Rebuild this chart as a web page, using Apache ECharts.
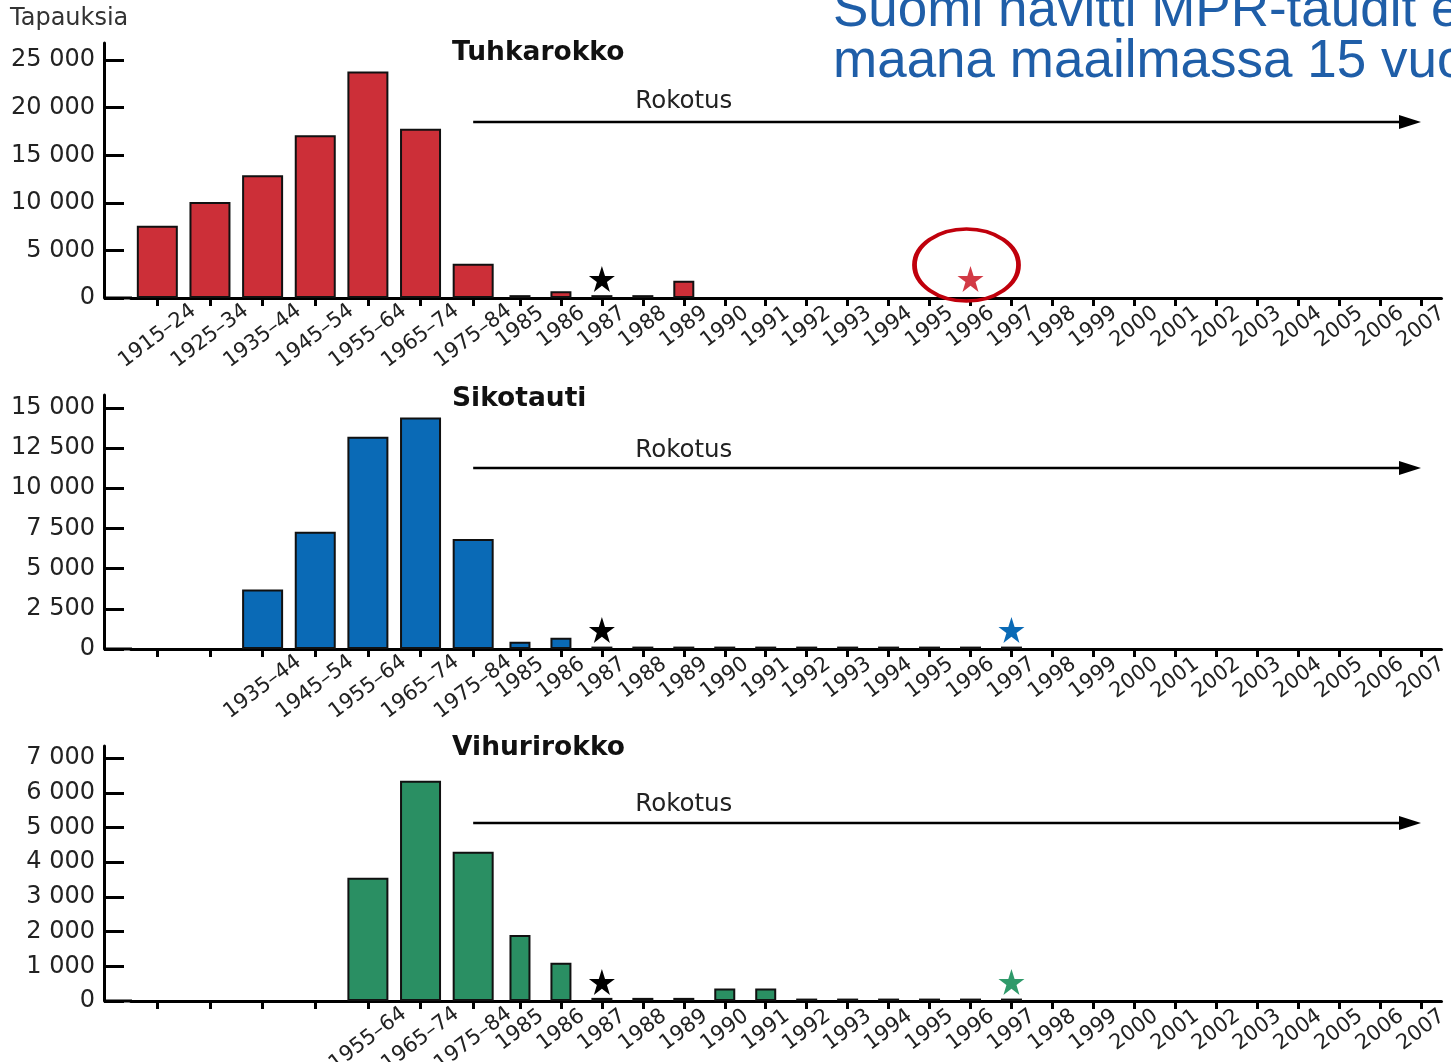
<!DOCTYPE html>
<html>
<head>
<meta charset="utf-8">
<script src="https://cdn.jsdelivr.net/npm/echarts@6/dist/echarts.min.js"></script>
<style>
  html, body { margin: 0; padding: 0; background: #fff; }
  #main { width: 1451px; height: 1062px; }
</style>
</head>
<body>
<div id="main"></div>
<script>
// ---------- DATA ----------
const decades = ['1915–24', '1925–34', '1935–44', '1945–54', '1955–64', '1965–74', '1975–84'];
const years = ['1985', '1986', '1987', '1988', '1989', '1990', '1991', '1992', '1993', '1994', '1995', '1996',
               '1997', '1998', '1999', '2000', '2001', '2002', '2003', '2004', '2005', '2006', '2007'];

const panelTitles = ['Tuhkarokko', 'Sikotauti', 'Vihurirokko'];
const arrowLabel = 'Rokotus';
const yAxisTitle = 'Tapauksia';
const headline = ['Suomi hävitti MPR-taudit e', 'maana maailmassa 15 vuo'];

// Tuhkarokko (measles)
const measlesDecades = [7600, 10100, 12900, 17100, 23800, 17800, 3600];
const measlesYears = [300, 700, 300, 300, 1800, null, null, null, null, null, null, null,
                      null, null, null, null, null, null, null, null, null, null, null];
// Sikotauti (mumps)
const mumpsDecades = [null, null, 3700, 7300, 13200, 14400, 6850];
const mumpsYears = [450, 700, 150, 150, 150, 150, 150, 150, 150, 150, 150, 150,
                    150, null, null, null, null, null, null, null, null, null, null];
// Vihurirokko (rubella)
const rubellaDecades = [null, null, null, null, 3550, 6350, 4300];
const rubellaYears = [1900, 1100, 90, 90, 90, 360, 360, 70, 70, 70, 70, 70,
                      70, null, null, null, null, null, null, null, null, null, null];

const blackStarYear = '1987';
const eliminationYears = ['1996', '1997', '1997'];

const yTickValues = [
  [0, 5000, 10000, 15000, 20000, 25000],
  [0, 2500, 5000, 7500, 10000, 12500, 15000],
  [0, 1000, 2000, 3000, 4000, 5000, 6000, 7000]
];
const yMax = [26800, 15800, 7350];

// ---------- STYLE / LAYOUT ----------
const barColors = ['#cc2f38', '#0a6ab6', '#2a8f63'];
const starColors = ['#d23a45', '#0a6ab6', '#2f9a6a'];
const gridTops = [43, 395, 746];
const gridHeights = [255, 254, 255];
const titleY = [53, 399, 748];
const rokY = [102, 451, 805];
const arrowY = [122, 468, 823];
const axisX = 104;
const decLeft = 131, decRight = 499.5, yrRight = 1441.5;
const FONT = 'DejaVu Sans';

const decadeData = [measlesDecades, mumpsDecades, rubellaDecades];
const yearData = [measlesYears, mumpsYears, rubellaYears];

const STAR = 'path://M50,2 L61.8,37.6 L99,37.6 L69,59.6 L80.3,95 L50,73 L19.7,95 L31,59.6 L1,37.6 L38.2,37.6 Z';

function fmt(v) {
  return String(v).replace(/\B(?=(\d{3})+(?!\d))/g, ' ');
}

const grids = [], xAxes = [], yAxes = [], series = [];

for (let i = 0; i < 3; i++) {
  grids.push({ left: decLeft, width: decRight - decLeft, top: gridTops[i], height: gridHeights[i], outerBoundsMode: 'none' });
  grids.push({ left: decRight, width: yrRight - decRight, top: gridTops[i], height: gridHeights[i], outerBoundsMode: 'none' });

  const xCommon = {
    type: 'category',
    axisLine: { show: true, lineStyle: { color: '#000', width: 3 } },
    axisTick: { show: true, interval: 0, alignWithLabel: true, length: 8, lineStyle: { color: '#000', width: 3 } },
    splitLine: { show: false }
  };
  const dd = decadeData[i];
  xAxes.push(Object.assign({}, xCommon, {
    gridIndex: 2 * i, data: decades,
    axisLabel: {
      interval: 0, rotate: 37, align: 'center', verticalAlign: 'middle', margin: 38,
      fontSize: 21, color: '#222', fontFamily: FONT,
      formatter: (v, idx) => (dd[idx] == null ? '' : v)
    }
  }));
  xAxes.push(Object.assign({}, xCommon, {
    gridIndex: 2 * i + 1, data: years,
    axisLabel: {
      interval: 0, rotate: 37, align: 'center', verticalAlign: 'middle', margin: 29,
      fontSize: 21, color: '#222', fontFamily: FONT
    }
  }));

  yAxes.push({
    type: 'value', gridIndex: 2 * i, min: 0, max: yMax[i], offset: decLeft - axisX,
    splitLine: { show: false },
    axisLine: { show: true, lineStyle: { color: '#000', width: 3 } },
    axisTick: { show: true, inside: true, length: 20, lineStyle: { color: '#000', width: 3 }, customValues: yTickValues[i] },
    axisLabel: { customValues: yTickValues[i], formatter: fmt, fontSize: 24, color: '#222', fontFamily: FONT, margin: 9 }
  });
  yAxes.push({ type: 'value', gridIndex: 2 * i + 1, min: 0, max: yMax[i], show: false });

  const barStyle = { color: barColors[i], borderColor: '#111', borderWidth: 2, opacity: 1 };
  series.push({ type: 'bar', xAxisIndex: 2 * i, yAxisIndex: 2 * i, data: decadeData[i], barWidth: 41, itemStyle: barStyle, silent: true });
  series.push({ type: 'bar', xAxisIndex: 2 * i + 1, yAxisIndex: 2 * i + 1, data: yearData[i], barWidth: 21, itemStyle: barStyle, silent: true });
  series.push({
    type: 'scatter', xAxisIndex: 2 * i + 1, yAxisIndex: 2 * i + 1, z: 5, silent: true,
    data: [[blackStarYear, 0]], symbol: STAR, symbolSize: 26, symbolOffset: [0, -19],
    itemStyle: { color: '#000', opacity: 1 }
  });
  series.push({
    type: 'scatter', xAxisIndex: 2 * i + 1, yAxisIndex: 2 * i + 1, z: 5, silent: true,
    data: [[eliminationYears[i], 0]], symbol: STAR, symbolSize: 26, symbolOffset: [0, -19],
    itemStyle: { color: starColors[i], opacity: 1 }
  });
}
// ring around the measles elimination star
series.push({
  type: 'scatter', xAxisIndex: 1, yAxisIndex: 1, z: 6, silent: true,
  data: [[eliminationYears[0], 0]], symbol: 'circle', symbolSize: [104, 72], symbolOffset: [-4, -33],
  itemStyle: { color: 'rgba(0,0,0,0)', borderColor: '#c0000c', borderWidth: 4, opacity: 1 }
});

const chart = echarts.init(document.getElementById('main'));
chart.setOption({
  animation: false,
  backgroundColor: '#fff',
  grid: grids, xAxis: xAxes, yAxis: yAxes, series: series
});

// annotations positioned through the axes
const g = [];
g.push({ type: 'text', left: 10, top: 7, style: { text: yAxisTitle, fontSize: 24, fontFamily: FONT, fill: '#333' } });
g.push({ type: 'text', x: 833, y: 11, style: { text: headline[0], fontSize: 53, fontFamily: 'Liberation Sans', fill: '#1f5ea8', verticalAlign: 'middle' } });
g.push({ type: 'text', x: 833, y: 62, style: { text: headline[1], fontSize: 53, fontFamily: 'Liberation Sans', fill: '#1f5ea8', verticalAlign: 'middle' } });
for (let i = 0; i < 3; i++) {
  const y0 = chart.convertToPixel({ yAxisIndex: 2 * i }, 0);
  const xa = chart.convertToPixel({ xAxisIndex: 2 * i }, decades[decades.length - 1]);
  const xb = chart.convertToPixel({ xAxisIndex: 2 * i + 1 }, years[years.length - 1]);
  const xm = chart.convertToPixel({ xAxisIndex: 2 * i + 1 }, '1989');
  g.push({ type: 'line', shape: { x1: axisX, y1: y0, x2: decLeft + 1, y2: y0 }, style: { stroke: '#000', lineWidth: 3 } });
  g.push({ type: 'text', x: 452, y: titleY[i], style: { text: panelTitles[i], fontSize: 26.5, fontWeight: 'bold', fontFamily: FONT, fill: '#111', verticalAlign: 'middle' } });
  g.push({ type: 'text', x: xm, y: rokY[i], style: { text: arrowLabel, fontSize: 24.5, fontFamily: FONT, fill: '#222', align: 'center', verticalAlign: 'middle' } });
  g.push({ type: 'line', shape: { x1: xa, y1: arrowY[i], x2: xb - 16, y2: arrowY[i] }, style: { stroke: '#000', lineWidth: 2.5 } });
  g.push({ type: 'polygon', shape: { points: [[xb, arrowY[i]], [xb - 22, arrowY[i] - 7], [xb - 22, arrowY[i] + 7]] }, style: { fill: '#000' } });
}
chart.setOption({ graphic: g });
</script>
</body>
</html>
